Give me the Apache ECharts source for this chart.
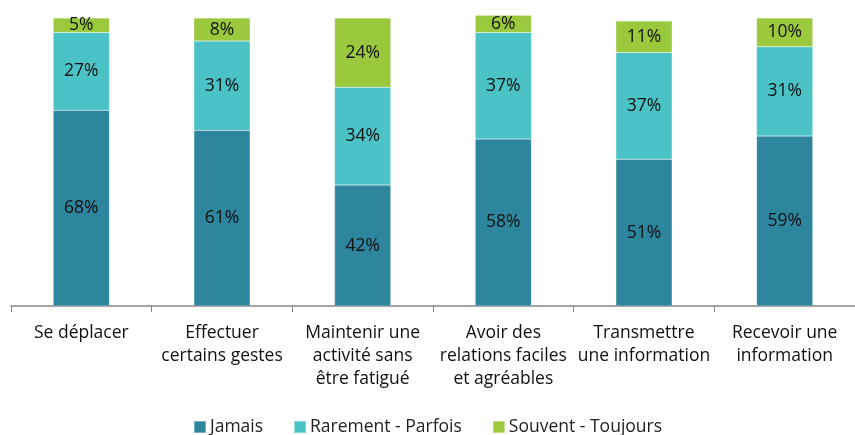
<!DOCTYPE html>
<html>
<head>
<meta charset="utf-8">
<script src="https://cdn.jsdelivr.net/npm/echarts@6/dist/echarts.min.js"></script>
<style>
  html, body { margin: 0; padding: 0; background: #fff; }
  #chart { width: 855px; height: 435px; }
</style>
</head>
<body>
<div id="chart"></div>
<script>
const categories = [
  "Se déplacer",
  "Effectuer\ncertains gestes",
  "Maintenir une\nactivité sans\nêtre fatigué",
  "Avoir des\nrelations faciles\net agréables",
  "Transmettre\nune information",
  "Recevoir une\ninformation"
];
const jamais = [68, 61, 42, 58, 51, 59];
const rarement = [27, 31, 34, 37, 37, 31];
const souvent = [5, 8, 24, 6, 11, 10];

const fontFamily = "'Open Sans', sans-serif";

const chart = echarts.init(document.getElementById("chart"));

function barSeries(name, data, color) {
  return {
    name: name,
    type: "bar",
    stack: "total",
    barWidth: "40%",
    data: data,
    itemStyle: { color: color, borderColor: "rgba(255,255,255,0.35)", borderWidth: 0.5 },
    label: {
      show: true,
      position: "inside",
      formatter: "{c}%",
      color: "#111",
      fontSize: 17.5,
      fontFamily: fontFamily
    }
  };
}

chart.setOption({
  animation: false,
  grid: {
    left: 11,
    right: 0,
    top: 3.65,
    bottom: 129
  },
  legend: {
    top: 413,
    left: "center",
    itemWidth: 12,
    itemHeight: 12,
    itemGap: 30,
    icon: "rect",
    textStyle: { fontSize: 17.5, color: "#222", fontFamily: fontFamily, padding: [0, 0, 0, -1] },
    data: ["Jamais", "Rarement - Parfois", "Souvent - Toujours"]
  },
  xAxis: {
    type: "category",
    data: categories,
    axisLine: { lineStyle: { color: "#868686", width: 1.5 } },
    axisTick: { show: true, length: 6, lineStyle: { color: "#868686" } },
    axisLabel: {
      color: "#111",
      fontSize: 17.5,
      fontFamily: fontFamily,
      lineHeight: 23,
      margin: 16,
      interval: 0
    }
  },
  yAxis: {
    type: "value",
    min: 0,
    max: 105,
    show: false
  },
  series: [
    barSeries("Jamais", jamais, "#2E869E"),
    barSeries("Rarement - Parfois", rarement, "#4AC2C6"),
    barSeries("Souvent - Toujours", souvent, "#9BC93D")
  ]
});
</script>
</body>
</html>
